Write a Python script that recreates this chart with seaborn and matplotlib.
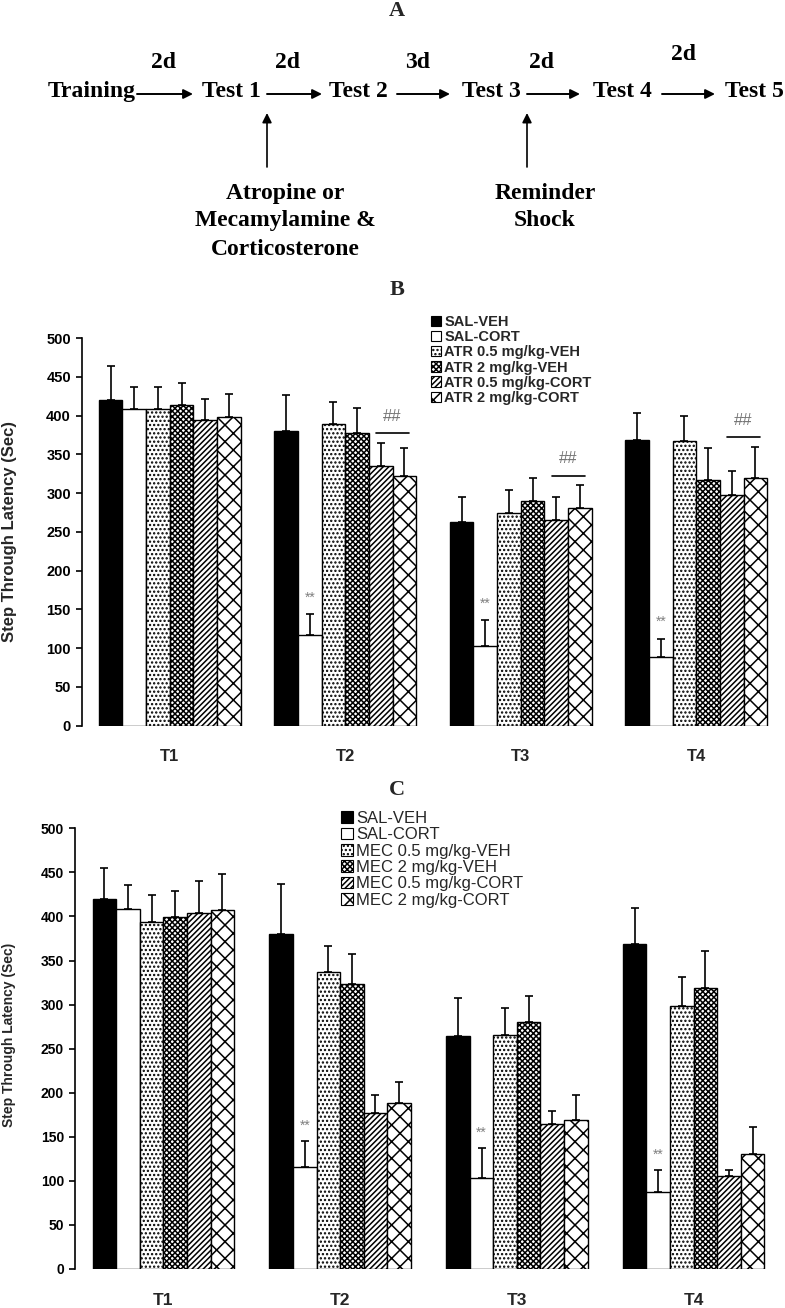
import numpy as np
import pandas as pd
import matplotlib.pyplot as plt
from matplotlib.patches import Patch
import seaborn as sns

# ---- data
tests = ["T1", "T2", "T3", "T4"]

groups_b = ["SAL-VEH", "SAL-CORT", "ATR 0.5 mg/kg-VEH", "ATR 2 mg/kg-VEH",
            "ATR 0.5 mg/kg-CORT", "ATR 2 mg/kg-CORT"]
means_b = [[420, 380, 263, 369],
           [408, 117, 103, 88],
           [408, 389, 274, 367],
           [414, 378, 290, 317],
           [394, 335, 265, 297],
           [398, 322, 281, 319]]
sem_b = [[44, 46, 32, 34],
         [29, 27, 33, 24],
         [29, 28, 30, 32],
         [28, 32, 29, 41],
         [27, 30, 30, 32],
         [30, 36, 29, 41]]

groups_c = ["SAL-VEH", "SAL-CORT", "MEC 0.5 mg/kg-VEH", "MEC 2 mg/kg-VEH",
            "MEC 0.5 mg/kg-CORT", "MEC 2 mg/kg-CORT"]
means_c = [[420, 380, 264, 369],
           [408, 116, 103, 87],
           [394, 337, 265, 298],
           [399, 323, 280, 319],
           [404, 177, 164, 105],
           [407, 188, 169, 131]]
sem_c = [[35, 57, 43, 41],
         [28, 29, 34, 25],
         [30, 29, 31, 33],
         [30, 34, 30, 42],
         [36, 20, 15, 7],
         [41, 24, 28, 30]]

star_tests = ["T2", "T3", "T4"]     # ** on SAL-CORT
hash_tests_b = ["T2", "T3", "T4"]   # ## over the two ATR-CORT groups

fills = ["black", "white", "white", "white", "white", "white"]
hatches = [None, None, "....", "xxxxxx", "//////", "xx"]

W, H = 785, 1308
SERIF = ["Liberation Serif", "DejaVu Serif"]

sns.set_style("ticks")
plt.rcParams["font.family"] = ["Liberation Sans", "DejaVu Sans"]
plt.rcParams["hatch.linewidth"] = 1.1

fig = plt.figure(figsize=(W / 100, H / 100), dpi=100)


def fx(x):
    return x / W


def fy(y):
    return 1 - y / H


def panel(rect, groups, means, sems, width, tick_fs, xt_fs,
          leg_xy, leg_fs, leg_weight, star_off, hash_tests=None):
    ax = fig.add_axes(rect)
    rows = []
    for g, m in zip(groups, means):
        for t, v in zip(tests, m):
            rows.append({"test": t, "group": g, "latency": v})
    df = pd.DataFrame(rows)
    sns.barplot(data=df, x="test", y="latency", hue="group", order=tests,
                hue_order=groups, palette=fills, width=width, errorbar=None,
                edgecolor="black", linewidth=1, saturation=1, legend=False,
                ax=ax)
    bars = list(ax.containers)
    for i, cont in enumerate(bars):
        for j, bar in enumerate(cont.patches):
            if hatches[i]:
                bar.set_hatch(hatches[i])
            xc = bar.get_x() + bar.get_width() / 2
            ax.errorbar(xc, bar.get_height(), yerr=[[0], [sems[i][j]]],
                        fmt="none", ecolor="black", elinewidth=1.2,
                        capsize=3, capthick=1.2, zorder=3)

    # significance marks
    for t in star_tests:
        j = tests.index(t)
        bar = bars[1].patches[j]
        ax.annotate("**", (bar.get_x() + bar.get_width() / 2,
                           means[1][j] + sems[1][j]),
                    xytext=(0, star_off), textcoords="offset points",
                    ha="center", va="center", fontsize=10, color="0.5")
    if hash_tests:
        for t in hash_tests:
            j = tests.index(t)
            b5 = bars[4].patches[j]
            b6 = bars[5].patches[j]
            top = max(means[4][j] + sems[4][j], means[5][j] + sems[5][j])
            x0 = b5.get_x() + 0.3 * b5.get_width()
            x1 = b6.get_x() + 0.7 * b6.get_width()
            ax.plot([x0, x1], [top + 12, top + 12], color="black", lw=1.2)
            ax.text((x0 + x1) / 2, top + 34, "##", ha="center", va="center",
                    fontsize=12, color="0.45")

    ax.set_ylim(0, 500)
    ax.set_xlim(-0.5, 3.5)
    ax.set_yticks(np.arange(0, 501, 50))
    ax.set_xlabel("")
    ax.set_ylabel("")
    for s in ["top", "right", "bottom"]:
        ax.spines[s].set_visible(False)
    ax.spines["left"].set_linewidth(1.2)
    ax.spines["left"].set_color("black")
    ax.tick_params(axis="y", direction="out", length=4, width=1.2,
                   pad=4, labelsize=tick_fs, colors="black")
    ax.tick_params(axis="x", length=0, pad=17, labelsize=xt_fs)
    for lab in ax.get_yticklabels() + ax.get_xticklabels():
        lab.set_fontweight("bold")

    handles = [Patch(facecolor=fills[i], edgecolor="black", hatch=hatches[i],
                     linewidth=0.8, label=g) for i, g in enumerate(groups)]
    leg = ax.legend(handles=handles, loc="upper left",
                    bbox_to_anchor=(fx(leg_xy[0]), fy(leg_xy[1])),
                    bbox_transform=fig.transFigure, frameon=False,
                    fontsize=leg_fs, handlelength=0.7, handleheight=0.7,
                    handletextpad=0.2, labelspacing=0.08, borderpad=0,
                    borderaxespad=0)
    for txt in leg.get_texts():
        txt.set_fontweight(leg_weight)
    return ax


# ---- panel B
axb = panel([fx(82), fy(725.7), fx(702), (725.7 - 338) / H], groups_b,
            means_b, sem_b, 0.81, 10.5, 12, (431, 315), 10.5, "bold",
            12, hash_tests_b)
fig.text(fx(10), fy(532), "Step Through Latency (Sec)", rotation=90,
         ha="center", va="center", fontsize=12, fontweight="bold")

# ---- panel C
axc = panel([fx(75), fy(1269), fx(707), (1269 - 828.3) / H], groups_c,
            means_c, sem_c, 0.80, 10, 12.5, (341, 811), 12, "normal",
            11)
fig.text(fx(9), fy(1035), "Step Through Latency (Sec)", rotation=90,
         ha="center", va="center", fontsize=10, fontweight="bold")

# ---- panel letters
for letter, (x, y) in zip("ABC", [(397, 16), (397, 295), (397, 795)]):
    fig.text(fx(x), fy(y), letter, ha="center", va="baseline", fontsize=16,
             fontweight="bold", family=SERIF)

# ---- panel A: timeline diagram
axa = fig.add_axes([0, fy(260), 1, 260 / H])
axa.set_xlim(0, W)
axa.set_ylim(260, 0)
axa.axis("off")

steps = ["Training", "Test 1", "Test 2", "Test 3", "Test 4", "Test 5"]
step_x = [92, 231, 358, 491, 622, 754]
days = ["2d", "2d", "3d", "2d", "2d"]
day_x = [164, 288, 418, 542, 684]
day_base = [68, 68, 68, 68, 60]
arrows = [(137, 193), (267, 322), (397, 450), (527, 580), (662, 715)]

tkw = dict(fontsize=17, fontweight="bold", family=SERIF, color="black")
for s, x in zip(steps, step_x):
    axa.text(x, 97, s, ha="center", va="baseline", **tkw)
for d, x, yb in zip(days, day_x, day_base):
    axa.text(x, yb, d, ha="center", va="baseline", **tkw)
for x0, x1 in arrows:
    axa.annotate("", xy=(x1, 94), xytext=(x0, 94),
                 arrowprops=dict(arrowstyle="-|>", color="black", lw=1.4,
                                 mutation_scale=14, shrinkA=0, shrinkB=0))
for x in [267, 527]:
    axa.annotate("", xy=(x, 113), xytext=(x, 167),
                 arrowprops=dict(arrowstyle="-|>", color="black", lw=1.2,
                                 mutation_scale=14, shrinkA=0, shrinkB=0))
for txt, yb in zip(["Atropine or", "Mecamylamine &", "Corticosterone"],
                   [199, 226, 255]):
    axa.text(285, yb, txt, ha="center", va="baseline", **tkw)
for txt, yb in zip(["Reminder", "Shock"], [199, 226]):
    axa.text(545, yb, txt, ha="center", va="baseline", **tkw)

fig.savefig("out.png", dpi=100)
